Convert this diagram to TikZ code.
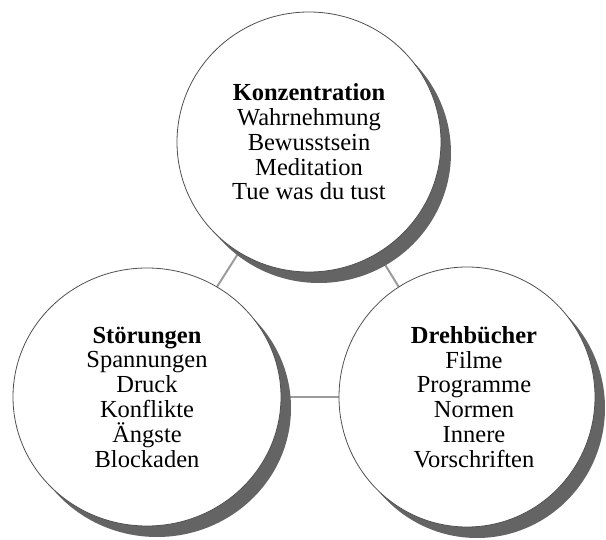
\documentclass[tikz,border=0pt]{standalone}
\usepackage{fontspec}
\setmainfont{Liberation Serif}
\usetikzlibrary{shapes.geometric,shadows,backgrounds}
\definecolor{shadowgray}{RGB}{100,100,100}
\definecolor{rimgray}{RGB}{80,80,80}
\definecolor{conngray}{RGB}{155,155,155}
\tikzset{
  bubble/.style={ellipse, draw=rimgray, line width=0.8pt, fill=white, inner sep=0pt,
    align=center, font=\fontsize{24.5}{24.8}\selectfont,
    drop shadow={shadow xshift=10pt, shadow yshift=-11pt, fill=shadowgray, opacity=1}},
  conn/.style={draw=conngray, line width=2pt}
}
\begin{document}
\begin{tikzpicture}[x=1pt,y=-1pt]
\useasboundingbox (0,0) rectangle (606,540);
\node[bubble, minimum width=264pt, minimum height=260pt] (konz) at (309,142)
  {\textbf{Konzentration}\\Wahrnehmung\\Bewusstsein\\Meditation\\Tue was du tust};
\node[bubble, minimum width=268pt, minimum height=258pt] (stoer) at (147,397)
  {\textbf{Störungen}\\Spannungen\\Druck\\Konflikte\\Ängste\\Blockaden};
\node[bubble, minimum width=256pt, minimum height=260pt] (dreh) at (467,397)
  {\hspace*{14pt}\textbf{Drehbücher}\\\hspace*{14pt}Filme\\\hspace*{14pt}Programme\\\hspace*{14pt}Normen\\\hspace*{14pt}Innere\\\hspace*{14pt}Vorschriften};
\begin{pgfonlayer}{background}
\draw[conn] (konz.center) -- (stoer.center);
\draw[conn] (konz.center) -- (dreh.center);
\draw[conn] (stoer.center) -- (dreh.center);
\end{pgfonlayer}
\end{tikzpicture}
\end{document}
